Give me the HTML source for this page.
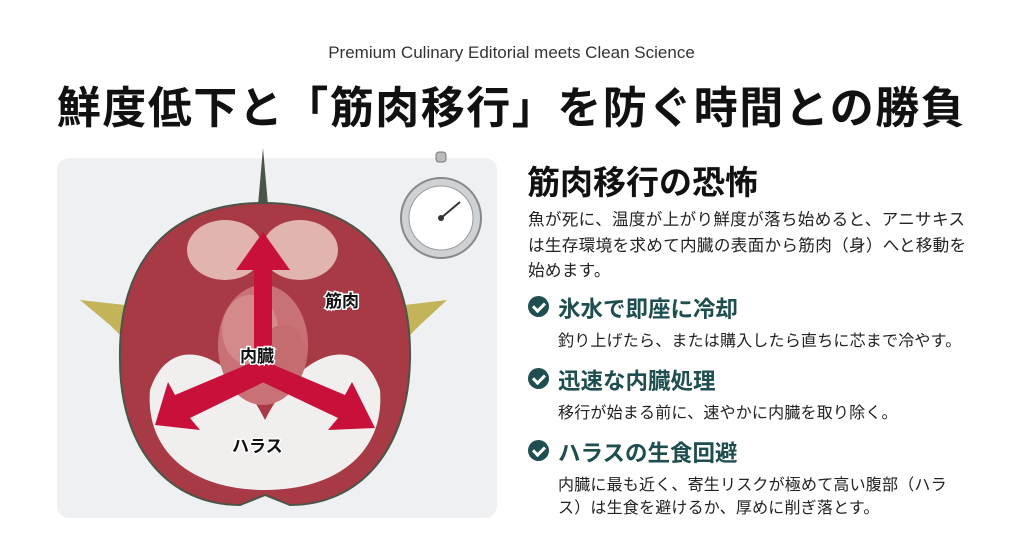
<!DOCTYPE html>
<html><head><meta charset="utf-8"><style>
body{margin:0;width:1023px;height:558px;background:#fff;position:relative;overflow:hidden;font-family:"Liberation Sans","Noto Sans CJK JP",sans-serif;color:#111}
.a{position:absolute;white-space:nowrap}
.sub{left:0;width:1023px;text-align:center;top:43px;font-size:17px;color:#333}
.title{left:0;width:1023px;text-align:center;top:72px;font-size:44px;font-weight:bold;letter-spacing:1.5px}
.h2{left:527px;top:156px;font-size:33px;font-weight:bold}
.p{left:528px;font-size:16.6px;color:#222;letter-spacing:0.3px}
.ih{left:558px;font-size:22.5px;font-weight:bold;color:#1f4e50}
.id{left:558px;font-size:16px;color:#222;letter-spacing:0.2px}
.ck{position:absolute;left:528px;width:21px;height:21px;border-radius:50%;background:#1f4e50}
.ck:after{content:"";position:absolute;left:7px;top:4px;width:5px;height:9px;border:solid #fff;border-width:0 3px 3px 0;transform:rotate(45deg)}
</style></head><body>
<div class="a sub">Premium Culinary Editorial meets Clean Science</div>
<div class="a title">鮮度低下と「筋肉移行」を防ぐ時間との勝負</div>
<svg class="a" style="left:0;top:0" width="520" height="558">
<rect x="57" y="158" width="440" height="360" rx="12" fill="#eef0f1"/>
<path d="M258 205 L263 148 L268 205Z" fill="#4a5548"/>
<path d="M125 305 L80 300 L110 325 L125 340Z" fill="#c3b45a"/>
<path d="M405 305 L447 300 L420 325 L405 340Z" fill="#c3b45a"/>
<path d="M263 203 C360 203 412 260 410 360 C408 450 360 505 290 505 L265 495 L240 505 C170 505 120 450 120 360 C118 260 170 203 263 203Z" fill="#a83a45" stroke="#4a5548" stroke-width="2"/>
<ellipse cx="225" cy="250" rx="38" ry="30" fill="#e2b4b0"/>
<ellipse cx="300" cy="250" rx="38" ry="30" fill="#e2b4b0"/>
<path d="M150 390 C170 330 230 350 265 420 C300 350 360 330 380 390 C385 450 340 490 265 490 C190 490 145 450 150 390Z" fill="#f1efee"/>
<ellipse cx="263" cy="345" rx="45" ry="60" fill="#c97275"/>
<ellipse cx="250" cy="330" rx="28" ry="35" fill="#d48a88"/>
<ellipse cx="283" cy="355" rx="24" ry="30" fill="#c56c6e"/>
<g fill="#c8103a">
<path d="M254 365 L254 270 L236 270 L263 232 L290 270 L272 270 L272 365Z"/>
<path d="M258 360 L175 395 L168 382 L155 425 L200 430 L190 418 L268 380Z"/>
<path d="M262 360 L345 395 L352 382 L375 428 L328 430 L338 418 L258 380Z"/>
</g>
<g font-weight="bold" font-size="17" fill="#111" stroke="#fff" stroke-width="3" paint-order="stroke">
<text x="325" y="307">筋肉</text><text x="240" y="362">内臓</text><text x="232" y="452">ハラス</text></g>
<rect x="436" y="152" width="10" height="10" rx="3" fill="#bbb" stroke="#777"/>
<circle cx="441" cy="218" r="40" fill="#cfd2d4" stroke="#888" stroke-width="2"/>
<circle cx="441" cy="218" r="32" fill="#fff" stroke="#999"/>
<line x1="441" y1="218" x2="460" y2="202" stroke="#333" stroke-width="2"/>
<circle cx="441" cy="218" r="3" fill="#333"/>
</svg>
<div class="a h2">筋肉移行の恐怖</div>
<div class="a p" style="top:206px">魚が死に、温度が上がり鮮度が落ち始めると、アニサキス</div>
<div class="a p" style="top:232px">は生存環境を求めて内臓の表面から筋肉（身）へと移動を</div>
<div class="a p" style="top:257px">始めます。</div>
<div class="ck" style="top:296px"></div><div class="a ih" style="top:292px">氷水で即座に冷却</div>
<div class="a id" style="top:327px">釣り上げたら、または購入したら直ちに芯まで冷やす。</div>
<div class="ck" style="top:368px"></div><div class="a ih" style="top:364px">迅速な内臓処理</div>
<div class="a id" style="top:399px">移行が始まる前に、速やかに内臓を取り除く。</div>
<div class="ck" style="top:440px"></div><div class="a ih" style="top:436px">ハラスの生食回避</div>
<div class="a id" style="top:471px">内臓に最も近く、寄生リスクが極めて高い腹部（ハラ</div>
<div class="a id" style="top:494px">ス）は生食を避けるか、厚めに削ぎ落とす。</div>
</body></html>
